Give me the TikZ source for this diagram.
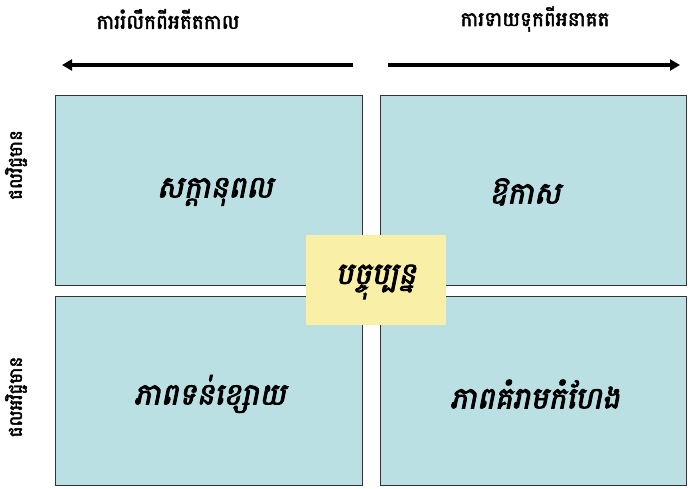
\documentclass[tikz,border=0pt]{standalone}
\usepackage{fontspec}
\newfontfamily\kh[Script=Khmer,FakeBold=2.5]{Battambang}
\newfontfamily\khs[Script=Khmer,FakeSlant=0.2,FakeBold=3]{Battambang}
\usetikzlibrary{arrows.meta}
\definecolor{boxblue}{HTML}{BBE0E3}
\definecolor{boxyellow}{HTML}{F9EFA6}
\tikzset{
  quad/.style={draw=black!80, line width=0.8pt, fill=boxblue},
  lbl/.style={font=\khs\fontsize{30}{34}\selectfont, inner sep=0pt},
  toplbl/.style={font=\kh\fontsize{20}{24}\selectfont, inner sep=0pt},
  sidelbl/.style={font=\kh\fontsize{18}{22}\selectfont, inner sep=0pt, rotate=90},
  bigarrow/.style={line width=3.5pt, -{Triangle[length=10pt,width=11pt]}}
}
\begin{document}
\begin{tikzpicture}[x=1pt,y=-1pt]
\useasboundingbox (0,0) rectangle (688,488);
\draw[quad] (55,95) rectangle (362,285);
\draw[quad] (380,95) rectangle (686,285);
\draw[quad] (55,296) rectangle (362,485);
\draw[quad] (380,296) rectangle (686,485);
\fill[boxyellow] (306,235) rectangle (446,325);
\node[lbl] (pot) at (215,192) {សក្តានុពល};
\node[lbl] (opp) at (525,192) {ឱកាស};
\node[lbl] (pres) at (376,282) {បច្ចុប្បន្ន};
\node[lbl] (weak) at (210,394) {ភាពទន់ខ្សោយ};
\node[lbl] (thr) at (535,394) {ភាពគំរាមកំហែង};
\node[toplbl] (past) at (168,19) {ការរំលឹកពីអតីតកាល};
\node[toplbl] (fut) at (535,19) {ការទាយទុកពីអនាគត};
\node[sidelbl] (posl) at (16,165) {ផលវិជ្ជមាន};
\node[sidelbl] (negl) at (16,397) {ផលអវិជ្ជមាន};
\coordinate (la) at (353,65);
\coordinate (lb) at (62,65);
\coordinate (ra) at (388,65);
\coordinate (rb) at (680,65);
\draw[bigarrow] (la) -- (lb);
\draw[bigarrow] (ra) -- (rb);
\end{tikzpicture}
\end{document}
